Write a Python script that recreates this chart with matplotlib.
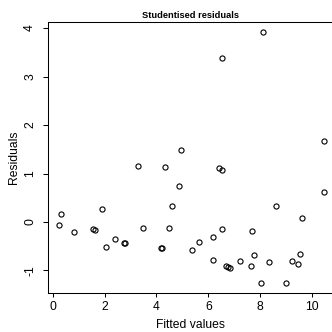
#Studentised residuals against fitted values
#scatter in the style of an R base plot

import matplotlib
matplotlib.use('Agg')
import matplotlib.pyplot as plt

# values
fitted = [0.24, 0.33, 0.82, 1.57, 1.64, 1.90, 2.04, 2.42, 2.74, 2.78,
          3.28, 3.50, 4.16, 4.23, 4.33, 4.50, 4.60, 4.86, 4.93, 5.37,
          5.63, 6.18, 6.19, 6.40, 6.51, 6.52, 6.54, 6.68, 6.77, 6.85,
          7.24, 7.66, 7.69, 7.75, 8.03, 8.10, 8.33, 8.63, 8.98, 9.22,
          9.45, 9.54, 9.63, 10.47, 10.47]
residuals = [-0.07, 0.16, -0.21, -0.15, -0.16, 0.26, -0.51, -0.35, -0.44, -0.44,
             1.15, -0.13, -0.53, -0.54, 1.13, -0.13, 0.33, 0.75, 1.49, -0.58,
             -0.41, -0.30, -0.79, 1.11, 3.38, -0.14, 1.07, -0.91, -0.93, -0.95,
             -0.80, -0.91, -0.19, -0.68, -1.26, 3.92, -0.82, 0.32, -1.26, -0.81,
             -0.87, -0.65, 0.08, 1.66, 0.61]
x_ticks = [0, 2, 4, 6, 8, 10]
y_ticks = [-1, 0, 1, 2, 3, 4]

plt.rcParams['font.family'] = ['Liberation Sans', 'DejaVu Sans']

fig = plt.figure(figsize = (3.32, 3.32), dpi = 100)
# the box runs just past the right edge, as in the reference
ax = fig.add_axes([0.1455, 0.1166, 0.8575, 0.818])

ax.plot(fitted, residuals, linestyle = 'none', marker = 'o',
        markersize = 3.7, markerfacecolor = 'none',
        markeredgecolor = 'black', markeredgewidth = 0.8)

ax.set_xlim(-0.17, 10.81)
ax.set_ylim(-1.47, 4.13)
ax.set_xticks(x_ticks)
ax.set_yticks(y_ticks)
ax.set_yticklabels([str(v) for v in y_ticks], rotation = 90, va = 'center')

for spine in ax.spines.values():
    spine.set_linewidth(0.75)
ax.tick_params(axis = 'both', labelsize = 8.7, width = 0.75)
ax.tick_params(axis = 'x', length = 3.0, pad = 2.5)
ax.tick_params(axis = 'y', length = 3.8, pad = 5)

# axis labels placed where R puts them (line 3 of the margin)
fig.text(0.5744, 0.0211, 'Fitted values', fontsize = 8.7, ha = 'center', va = 'center')
fig.text(0.0422, 0.5256, 'Residuals', fontsize = 8.7, ha = 'center', va = 'center',
         rotation = 90)
ax.set_title('Studentised residuals', fontsize = 6.7, fontweight = 'bold', pad = 2.7)

fig.savefig('out.png', dpi = 100)
